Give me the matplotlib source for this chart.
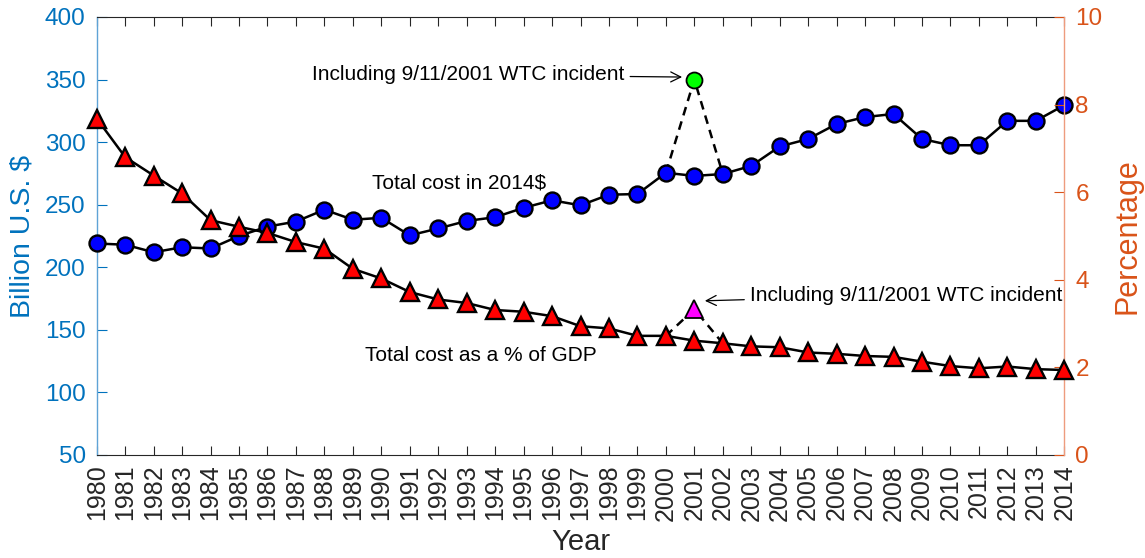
import matplotlib
matplotlib.use("Agg")
import matplotlib.pyplot as plt

plt.rcParams['font.family'] = ['Liberation Sans', 'DejaVu Sans']

years = list(range(1980, 2015))
cost_billion = [219, 218, 212, 216, 215, 225, 232.5, 236.5, 246, 238,
                239.5, 225.5, 231, 237, 240, 247.5, 253.5, 249.5, 258, 258.5,
                275.5, 273, 274.5, 281, 296.5, 302.5, 314.5, 320, 322.5, 302.5,
                297.5, 297.5, 317, 317, 329.5]
cost_pct_gdp = [7.68, 6.80, 6.38, 5.97, 5.36, 5.21, 5.07, 4.86, 4.71, 4.25,
                4.03, 3.72, 3.55, 3.47, 3.31, 3.27, 3.17, 2.94, 2.89, 2.72,
                2.72, 2.61, 2.55, 2.48, 2.46, 2.34, 2.31, 2.26, 2.24, 2.13,
                2.03, 1.98, 2.02, 1.96, 1.94]
wtc_year = 2001
wtc_cost = 350
wtc_pct = 3.33
left_ticks = [50, 100, 150, 200, 250, 300, 350, 400]
right_ticks = [0, 2, 4, 6, 8, 10]

BLUE = '#0072BD'
ORANGE = '#D95319'
GRAY = '#262626'

fig = plt.figure(figsize=(11.45, 5.58), dpi=100)
ax = fig.add_axes([0.0845, 0.1846, 0.845, 0.785])
ax2 = ax.twinx()

# left series
i0 = years.index(2000)
i2 = years.index(2002)
ax.plot([years[i0], wtc_year, years[i2]], [cost_billion[i0], wtc_cost, cost_billion[i2]],
        ls=(0, (3.5, 2.5)), color='black', lw=1.8, zorder=2)
ax.plot(years, cost_billion, '-o', color='black', lw=1.8, ms=11.5, mfc='#0000FF',
        mec='black', mew=1.7, clip_on=False, zorder=3)
ax.plot([wtc_year], [wtc_cost], 'o', ms=11.5, mfc='#00FF00', mec='black', mew=1.3,
        clip_on=False, zorder=4)

# right series
ax2.plot([years[i0], wtc_year, years[i2]], [cost_pct_gdp[i0], wtc_pct, cost_pct_gdp[i2]],
         ls=(0, (3.5, 2.5)), color='black', lw=1.8, zorder=2)
ax2.plot(years, cost_pct_gdp, '-^', color='black', lw=1.8, ms=13, mfc='#FF0000',
         mec='black', mew=1.7, clip_on=False, zorder=3)
ax2.plot([wtc_year], [wtc_pct], '^', ms=13, mfc='#FF00FF', mec='black', mew=1.3,
         clip_on=False, zorder=4)

ax.set_xlim(1980, 2014)
ax.set_ylim(50, 400)
ax2.set_ylim(0, 10)
ax.set_xticks(years)
ax.set_xticklabels([str(y) for y in years], rotation=90, fontsize=18, color=GRAY)
ax.set_yticks(left_ticks)
ax.set_yticklabels([str(t) for t in left_ticks], fontsize=17.5, color=BLUE)
ax2.set_yticks(right_ticks)
ax2.set_yticklabels([str(t) for t in right_ticks], fontsize=17.5, color=ORANGE)

ax.tick_params(axis='x', direction='in', top=True, length=6.5, width=0.8, color=GRAY, pad=7)
ax.tick_params(axis='y', direction='in', length=7, width=0.8, color=BLUE, pad=8)
ax2.tick_params(axis='y', direction='in', length=7, width=0.8, color=ORANGE, pad=8)

for s in ['top', 'bottom']:
    ax.spines[s].set_color(GRAY)
    ax.spines[s].set_linewidth(0.8)
ax.spines['left'].set_color('#5FA3D6')
ax.spines['left'].set_linewidth(1.0)
ax.spines['right'].set_visible(False)
for s in ['left', 'top', 'bottom']:
    ax2.spines[s].set_visible(False)
ax2.spines['right'].set_color('#EE9C7E')
ax2.spines['right'].set_linewidth(1.0)

ax.set_ylabel('Billion U.S. $', fontsize=20.5, color=BLUE, labelpad=7)
ax2.set_ylabel('Percentage', fontsize=22, color=ORANGE, labelpad=7)
ax.set_xlabel('Year', fontsize=21, color=GRAY, labelpad=5)

ax.text(1989.67, 267.4, 'Total cost in 2014$', fontsize=15, ha='left', va='center')
ax2.text(1989.43, 2.26, 'Total cost as a % of GDP', fontsize=15, ha='left', va='center')

ax.annotate('Including 9/11/2001 WTC incident', xy=(2000.57, 352), xytext=(1998.55, 353.7),
            fontsize=15, ha='right', va='center',
            arrowprops=dict(arrowstyle='->', color='black', lw=0.9, shrinkA=2, shrinkB=0,
                            mutation_scale=18))
ax2.annotate('Including 9/11/2001 WTC incident', xy=(2001.37, 3.52), xytext=(2002.95, 3.65),
             fontsize=15, ha='left', va='center',
             arrowprops=dict(arrowstyle='->', color='black', lw=0.9, shrinkA=2, shrinkB=0,
                             mutation_scale=18))

fig.savefig('out.png', dpi=100)
